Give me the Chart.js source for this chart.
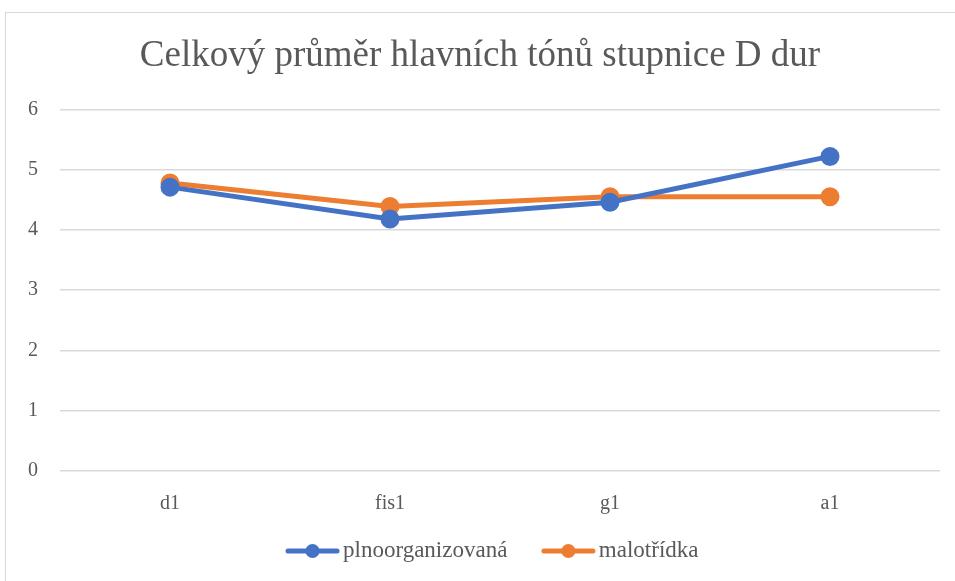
<!DOCTYPE html>
<html>
<head>
<meta charset="utf-8">
<script src="https://cdn.jsdelivr.net/npm/chart.js@4"></script>
<style>
  body { margin: 0; background: #fff; }
  #wrap { position: relative; width: 955px; height: 581px; overflow: hidden; }
  #frame { position: absolute; left: 5px; top: 12px; width: 1000px; height: 600px; border: 1px solid #d9d9d9; }
  #myChart { position: absolute; left: 0; top: 0; }
</style>
</head>
<body>
<div id="wrap">
  <div id="frame"></div>
  <canvas id="myChart" width="955" height="581"></canvas>
</div>
<script>
const categories = ['d1', 'fis1', 'g1', 'a1'];
const plnoorganizovana = [4.71, 4.18, 4.46, 5.22];
const malotridka = [4.78, 4.39, 4.55, 4.55];
const yTicks = [0, 1, 2, 3, 4, 5, 6];

const textColor = '#595959';
const serif = "'Liberation Serif', 'Times New Roman', serif";

// legend marker: a short line with a dot, with empty room on the left
// so the legend items sit further apart
function legendMarker(color) {
    const c = document.createElement('canvas');
    c.width = 87;
    c.height = 16;
    const g = c.getContext('2d');
    g.strokeStyle = color;
    g.lineWidth = 5;
    g.lineCap = 'round';
    g.beginPath();
    g.moveTo(35, 8);
    g.lineTo(84, 8);
    g.stroke();
    g.fillStyle = color;
    g.beginPath();
    g.arc(59.5, 8, 7, 0, Math.PI * 2);
    g.fill();
    return c;
}

const ctx = document.getElementById('myChart').getContext('2d');
const myChart = new Chart(ctx, {
    type: 'line',
    data: {
        labels: categories,
        datasets: [{
            label: 'plnoorganizovaná',
            data: plnoorganizovana,
            borderColor: '#4472C4',
            backgroundColor: '#4472C4',
            borderWidth: 5,
            pointRadius: 7,
            pointHoverRadius: 7,
            pointStyle: 'circle',
            tension: 0
        }, {
            label: 'malotřídka',
            data: malotridka,
            borderColor: '#ED7D31',
            backgroundColor: '#ED7D31',
            borderWidth: 5,
            pointRadius: 7,
            pointHoverRadius: 7,
            pointStyle: 'circle',
            tension: 0
        }]
    },
    options: {
        responsive: false,
        animation: false,
        layout: {
            padding: { left: 20, right: 15, top: 34, bottom: 8.5 }
        },
        plugins: {
            title: {
                display: true,
                text: 'Celkový průměr hlavních tónů stupnice D dur',
                color: textColor,
                font: { family: serif, size: 37, weight: 'normal' },
                padding: { top: 0, bottom: 31 }
            },
            legend: {
                position: 'bottom',
                labels: {
                    color: textColor,
                    font: { family: serif, size: 23 },
                    usePointStyle: true,
                    pointStyleWidth: 70,
                    padding: 10,
                    generateLabels(chart) {
                        const items = Chart.defaults.plugins.legend.labels.generateLabels(chart);
                        items.forEach(it => {
                            it.pointStyle = legendMarker(chart.data.datasets[it.datasetIndex].borderColor);
                        });
                        return items;
                    }
                }
            },
            tooltip: { enabled: false }
        },
        scales: {
            x: {
                offset: true,
                grid: { display: false, drawTicks: false },
                border: { display: false },
                afterFit(axis) { axis.height = 58.5; },
                ticks: { color: textColor, font: { family: serif, size: 20 }, padding: 21 }
            },
            y: {
                min: 0,
                max: 6,
                afterBuildTicks(axis) {
                    axis.ticks = yTicks.map(v => ({ value: v }));
                },
                afterFit(axis) { axis.width = 40; },
                grid: { color: '#d9d9d9', lineWidth: 1.5, drawTicks: false },
                border: { display: false },
                ticks: { color: textColor, font: { family: serif, size: 20 }, padding: 22 }
            }
        }
    }
});
</script>
</body>
</html>
